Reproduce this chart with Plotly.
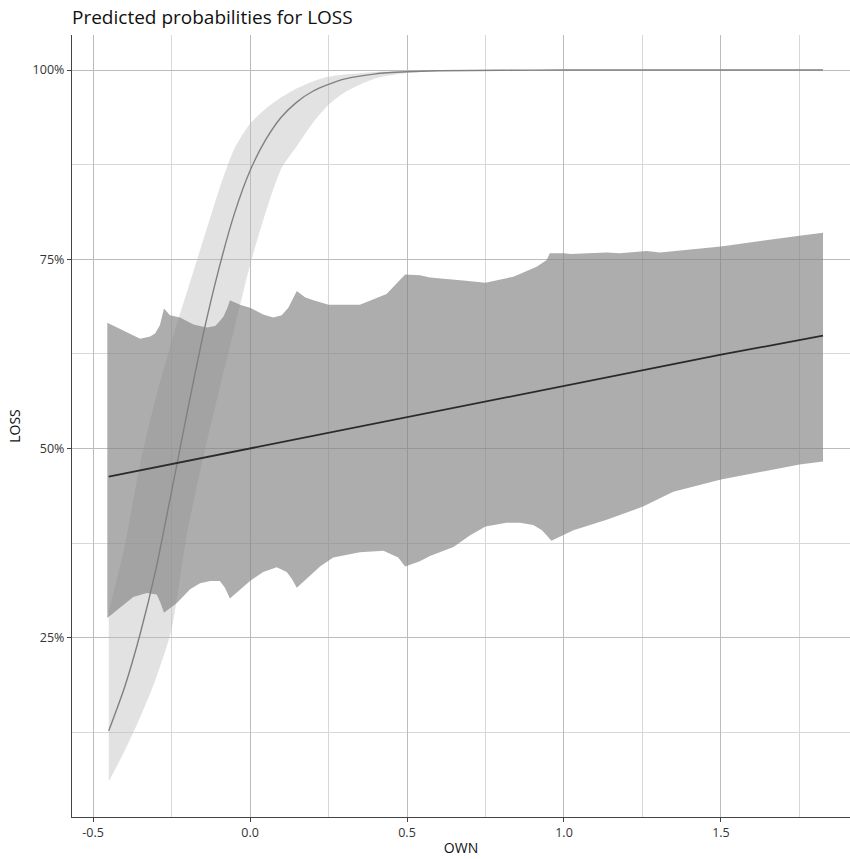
import plotly.graph_objects as go

# ---- data (percent) ----
light_x = [-0.45, -0.40, -0.35, -0.30, -0.25, -0.20, -0.15, -0.10, -0.05, 0.00, 0.05, 0.10, 0.15,
           0.20, 0.25, 0.30, 0.40, 0.50, 0.60, 0.80, 1.00, 1.20, 1.40, 1.60, 1.825]
light_fit = [12.7, 18.4, 25.5, 34.0, 44.3, 54.8, 64.9, 73.6, 81.0, 86.7, 90.8, 93.8, 95.8,
             97.2, 98.1, 98.8, 99.5, 99.77, 99.9, 99.98, 100, 100, 100, 100, 100]
light_hi = [28.5, 37.0, 48.0, 56.7, 64.1, 70.8, 77.4, 84.0, 89.6, 92.9, 94.9, 96.4, 97.6,
            98.5, 99.1, 99.4, 99.75, 99.9, 99.97, 100, 100, 100, 100, 100, 100]
light_lo = [6.0, 10.0, 14.5, 19.6, 26.1, 38.9, 48.6, 57.4, 65.8, 74.2, 81.2, 87.0, 90.0,
            93.0, 95.4, 97.0, 98.9, 99.6, 99.85, 99.97, 100, 100, 100, 100, 100]

dark_x = [-0.45, 0.0, 0.5, 1.0, 1.5, 1.825]
dark_fit = [46.3, 50.0, 54.2, 58.3, 62.4, 64.9]

dark_up_x = [-0.4545, -0.425, -0.393, -0.35, -0.318, -0.3025, -0.287, -0.274,
             -0.255, -0.223, -0.18, -0.138, -0.111, -0.101, -0.085, -0.072, -0.064,
             -0.032, 0.0, 0.042, 0.074, 0.101, 0.122, 0.138, 0.149,
             0.175, 0.202, 0.25, 0.35, 0.435, 0.451, 0.478, 0.494,
             0.541, 0.573, 0.679, 0.75, 0.839, 0.913, 0.945, 0.955,
             1.0, 1.02, 1.136, 1.178, 1.263, 1.306, 1.5, 1.602, 1.75, 1.825]
dark_up = [66.6, 66.0, 65.3, 64.5, 64.8, 65.2, 66.3, 68.5,
           67.6, 67.3, 66.4, 66.0, 66.2, 66.6, 67.4, 68.6, 69.6,
           69.0, 68.6, 67.7, 67.3, 67.6, 68.6, 69.8, 70.8,
           70.0, 69.6, 69.0, 69.0, 70.4, 71.1, 72.4, 73.0,
           72.9, 72.6, 72.2, 71.9, 72.7, 74.0, 74.9, 75.8,
           75.8, 75.7, 75.9, 75.8, 76.1, 75.9, 76.7, 77.3, 78.1, 78.5]

dark_lo_x = [-0.4545, -0.414, -0.372, -0.329, -0.297, -0.285, -0.274,
             -0.233, -0.191, -0.159, -0.127, -0.096, -0.080, -0.064,
             -0.032, 0.0, 0.042, 0.085, 0.117, 0.133, 0.149,
             0.18, 0.223, 0.265, 0.35, 0.425, 0.43, 0.472, 0.494,
             0.541, 0.573, 0.648, 0.70, 0.75, 0.817, 0.86, 0.902, 0.93, 0.96,
             1.0, 1.03, 1.136, 1.25, 1.348, 1.5, 1.75, 1.825]
dark_lo = [27.6, 29.0, 30.4, 30.9, 30.7, 29.6, 28.3,
           29.6, 31.4, 32.2, 32.5, 32.5, 31.6, 30.2,
           31.4, 32.5, 33.7, 34.3, 33.7, 32.8, 31.6,
           32.8, 34.4, 35.6, 36.3, 36.5, 36.4, 35.6, 34.4,
           35.1, 35.8, 37.0, 38.5, 39.7, 40.2, 40.2, 39.9, 39.2, 37.8,
           38.6, 39.2, 40.6, 42.3, 44.3, 45.9, 47.9, 48.3]

x_ticks = [-0.5, 0.0, 0.5, 1.0, 1.5]
x_ticktext = ["-0.5", "0.0", "0.5", "1.0", "1.5"]
x_minor = [-0.25, 0.25, 0.75, 1.25, 1.75]
y_ticks = [25, 50, 75, 100]
y_ticktext = ["25%", "50%", "75%", "100%"]
y_minor = [12.5, 37.5, 62.5, 87.5]

fig = go.Figure()

# light ribbon
fig.add_trace(go.Scatter(
    x=light_x + light_x[::-1], y=light_hi + light_lo[::-1],
    fill="toself", fillcolor="rgba(190,190,190,0.45)", mode="lines",
    line=dict(width=0, shape="spline", smoothing=0.7), hoverinfo="skip", showlegend=False))
# dark ribbon
fig.add_trace(go.Scatter(
    x=dark_up_x + dark_lo_x[::-1], y=dark_up + dark_lo[::-1],
    fill="toself", fillcolor="rgba(130,130,130,0.66)", mode="lines",
    line=dict(width=0), hoverinfo="skip", showlegend=False))
# lines
fig.add_trace(go.Scatter(x=light_x, y=light_fit, mode="lines",
                         line=dict(color="#808080", width=1.4, shape="spline", smoothing=0.6),
                         showlegend=False))
fig.add_trace(go.Scatter(x=dark_x, y=dark_fit, mode="lines",
                         line=dict(color="#2a2a2a", width=1.8), showlegend=False))

fig.update_layout(
    width=850, height=859,
    margin=dict(l=72, r=0, t=35, b=42),
    paper_bgcolor="white", plot_bgcolor="white",
    font=dict(family="Open Sans", color="#333333"),
    title=dict(text="Predicted probabilities for LOSS", x=72 / 850, xref="container",
               xanchor="left", y=1 - 17 / 859, yref="container", yanchor="middle",
               font=dict(size=19, color="#111111", family="Open Sans")),
    showlegend=False,
    hovermode=False,
)
fig.update_xaxes(
    range=[-0.567, 1.911], tickvals=x_ticks, ticktext=x_ticktext,
    showgrid=True, gridcolor="#bcbcbc", gridwidth=1, zeroline=False,
    minor=dict(tickvals=x_minor, showgrid=True, gridcolor="#d8d8d8", gridwidth=1, ticks=""),
    showline=True, linecolor="#444444", linewidth=1.2,
    ticks="outside", ticklen=4, tickcolor="#444444", tickwidth=1,
    tickfont=dict(size=12.5, color="#333333"),
    title=dict(text="OWN", font=dict(size=14, color="#111111"), standoff=3),
)
fig.update_yaxes(
    range=[1.32, 104.63], tickvals=y_ticks, ticktext=y_ticktext,
    showgrid=True, gridcolor="#bcbcbc", gridwidth=1, zeroline=False,
    minor=dict(tickvals=y_minor, showgrid=True, gridcolor="#d8d8d8", gridwidth=1, ticks=""),
    showline=True, linecolor="#444444", linewidth=1.2,
    ticks="outside", ticklen=4, tickcolor="#444444", tickwidth=1,
    tickfont=dict(size=12.5, color="#333333"),
    title=dict(text="LOSS", font=dict(size=14, color="#111111"), standoff=8),
)

fig.write_html("out.html")
